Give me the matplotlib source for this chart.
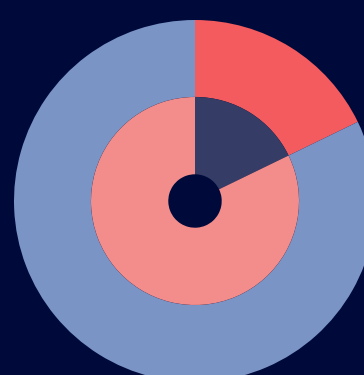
import matplotlib
matplotlib.use("Agg")
import matplotlib.pyplot as plt

# Share of the total, outer ring and inner ring
outer_labels = ["Selected", "Other"]
outer_values = [17.8, 82.2]
inner_labels = ["Selected", "Other"]
inner_values = [17.8, 82.2]

outer_colors = ["#F35B5E", "#7A94C6"]
inner_colors = ["#353C65", "#F28D8C"]
background = "#000A3A"

W, H = 364, 375
fig = plt.figure(figsize=(W / 100, H / 100), dpi=100)
fig.patch.set_facecolor(background)

# Pie centred at (195, 201) px from top-left, outer radius 181 px
cx, cy, R = 195, 201, 181
ax = fig.add_axes([(cx - R) / W, (H - cy - R) / H, 2 * R / W, 2 * R / H])
ax.set_facecolor(background)

ax.pie(outer_values, colors=outer_colors, startangle=90, counterclock=False,
       radius=1.0, wedgeprops=dict(width=0.425, linewidth=0))
ax.pie(inner_values, colors=inner_colors, startangle=90, counterclock=False,
       radius=0.5746, wedgeprops=dict(width=0.427, linewidth=0))

ax.set_xlim(-1, 1)
ax.set_ylim(-1, 1)
ax.axis("off")

fig.savefig("out.png", dpi=100, facecolor=background)
